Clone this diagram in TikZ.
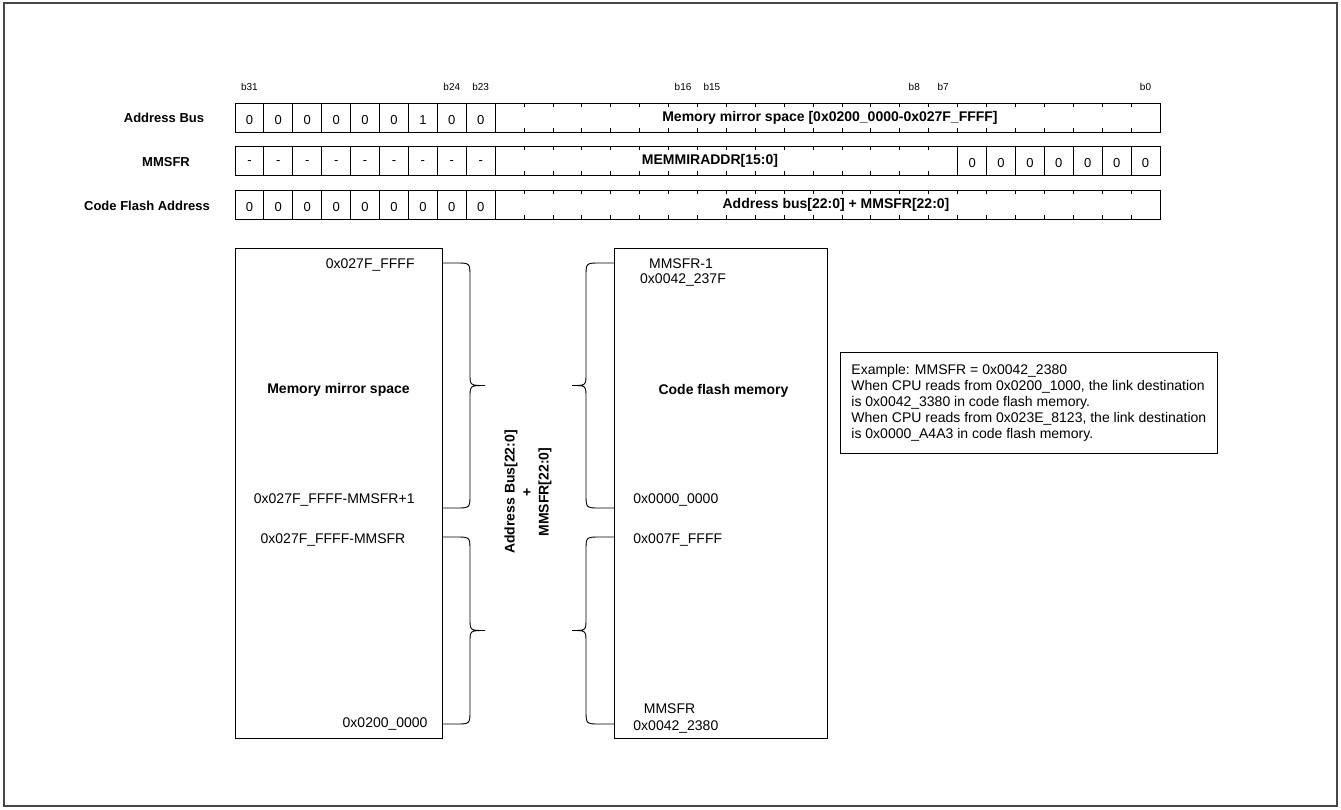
\documentclass[tikz,border=0pt]{standalone}
\usepackage{fontspec}
\setmainfont{Liberation Sans}
\begin{document}
\begin{tikzpicture}[x=1pt,y=-1pt,line width=0.9pt,
  txt/.style={font=\fontsize{14}{16}\selectfont,inner sep=0pt},
  btxt/.style={font=\bfseries\fontsize{14}{17}\selectfont,inner sep=0pt},
  lbl/.style={font=\bfseries\fontsize{13}{15}\selectfont,inner sep=0pt},
  bitlbl/.style={font=\fontsize{10}{12}\selectfont,inner sep=0pt},
  cell/.style={font=\fontsize{13}{15}\selectfont,inner sep=0pt},
  membox/.style={draw,line width=0.9pt,inner sep=0pt},
  curly/.style={line width=0.9pt}]
\useasboundingbox (0,0) rectangle (1341,809);
\draw[line width=1.6pt,black!72] (4,3) rectangle (1337,806);
\def\cw{28.906}
% bit labels
\foreach \n/\nm in {31/b31,24/b24,23/b23,16/b16,15/b15,8/b8,7/b7,0/b0}{
  \node[bitlbl] (\nm) at ({235+(31-\n+0.5)*\cw},87) {b\n};
}
% row labels
\node[lbl] (lab1) at (164,118) {Address Bus};
\node[lbl] (lab2) at (166,162) {MMSFR};
\node[lbl] (lab3) at (147,206) {Code Flash Address};
% row 1
\draw (235,103) rectangle (1160,132);
\foreach \i in {1,...,9}{\draw ({235+\i*\cw},103) -- ({235+\i*\cw},132);}
\foreach \i in {10,...,31}{\draw ({235+\i*\cw},103) -- ({235+\i*\cw},107);
  \draw ({235+\i*\cw},132) -- ({235+\i*\cw},128);}
\foreach \v [count=\i from 0] in {0,0,0,0,0,0,1,0,0}{
  \node[cell] (ra\i) at ({235+(\i+0.5)*\cw},120) {\v};}
\node[btxt] (ratext) at (830,118) {Memory mirror space [0x0200\_0000-0x027F\_FFFF]};
% row 2
\draw (235,146) rectangle (1160,175);
\foreach \i in {1,...,9,25,26,...,31}{\draw ({235+\i*\cw},146) -- ({235+\i*\cw},175);}
\foreach \i in {10,...,24}{\draw ({235+\i*\cw},146) -- ({235+\i*\cw},150);
  \draw ({235+\i*\cw},175) -- ({235+\i*\cw},171);}
\foreach \i in {0,...,8}{
  \node[cell] (rb\i) at ({235+(\i+0.5)*\cw},163) {-};}
\foreach \i in {25,...,31}{
  \node[cell] (rb\i) at ({235+(\i+0.5)*\cw},163) {0};}
\node[btxt] (rbtext) at (710,161) {MEMMIRADDR[15:0]};
% row 3
\draw (235,190) rectangle (1160,219);
\foreach \i in {1,...,9}{\draw ({235+\i*\cw},190) -- ({235+\i*\cw},219);}
\foreach \i in {10,...,31}{\draw ({235+\i*\cw},190) -- ({235+\i*\cw},194);
  \draw ({235+\i*\cw},219) -- ({235+\i*\cw},215);}
\foreach \i in {0,...,8}{
  \node[cell] (rc\i) at ({235+(\i+0.5)*\cw},207) {0};}
\node[btxt] (rctext) at (836,205) {Address bus[22:0] + MMSFR[22:0]};
% memory boxes
\node[membox,minimum width=207pt,minimum height=490pt] (mirror) at (338.5,493) {};
\node[membox,minimum width=213pt,minimum height=490pt] (flash) at (720.5,493) {};
\node[btxt] (mirrortitle) at (338.5,390) {Memory mirror space};
\node[btxt] (flashtitle) at (723.5,391) {Code flash memory};
\node[txt,anchor=east] (m1) at (415,265) {0x027F\_FFFF};
\node[txt,anchor=east] (m2) at (415,500) {0x027F\_FFFF-MMSFR+1};
\node[txt] (m3) at (333,540) {0x027F\_FFFF-MMSFR};
\node[txt,anchor=east] (m4) at (428,724) {0x0200\_0000};
\node[txt] (f1a) at (681,264) {MMSFR-1};
\node[txt] (f1b) at (683,280) {0x0042\_237F};
\node[txt,anchor=west] (f2) at (633,500) {0x0000\_0000};
\node[txt,anchor=west] (f3) at (633,540) {0x007F\_FFFF};
\node[txt] (f4a) at (669.5,709) {MMSFR};
\node[txt,anchor=west] (f4b) at (633,727) {0x0042\_2380};
% braces
\foreach \ya/\yb in {263/508,537/724}{
  \pgfmathsetmacro\ym{(\ya+\yb)/2}
  \draw[curly] (442,\ya) -- (456,\ya) .. controls (470,\ya) .. (470,\ya+14)
    -- (470,\ym-12) .. controls (470,\ym) .. (485,\ym)
    .. controls (470,\ym) .. (470,\ym+12) -- (470,\yb-14)
    .. controls (470,\yb) .. (456,\yb) -- (442,\yb);
  \draw[curly] (614,\ya) -- (600,\ya) .. controls (586,\ya) .. (586,\ya+14)
    -- (586,\ym-12) .. controls (586,\ym) .. (572,\ym)
    .. controls (586,\ym) .. (586,\ym+12) -- (586,\yb-14)
    .. controls (586,\yb) .. (600,\yb) -- (614,\yb);
}
\node[btxt,rotate=90,align=center] (sum) at (528,492) {Address Bus[22:0]\\+\\MMSFR[22:0]};
% example
\node[draw,line width=0.9pt,anchor=north west,align=left,inner xsep=11pt,minimum height=101pt,
  font=\fontsize{14}{15.8}\selectfont] (example) at (840,352)
  {Example: MMSFR = 0x0042\_2380\\
   When CPU reads from 0x0200\_1000, the link destination\\
   is 0x0042\_3380 in code flash memory.\\
   When CPU reads from 0x023E\_8123, the link destination\\
   is 0x0000\_A4A3 in code flash memory.};
\end{tikzpicture}
\end{document}
